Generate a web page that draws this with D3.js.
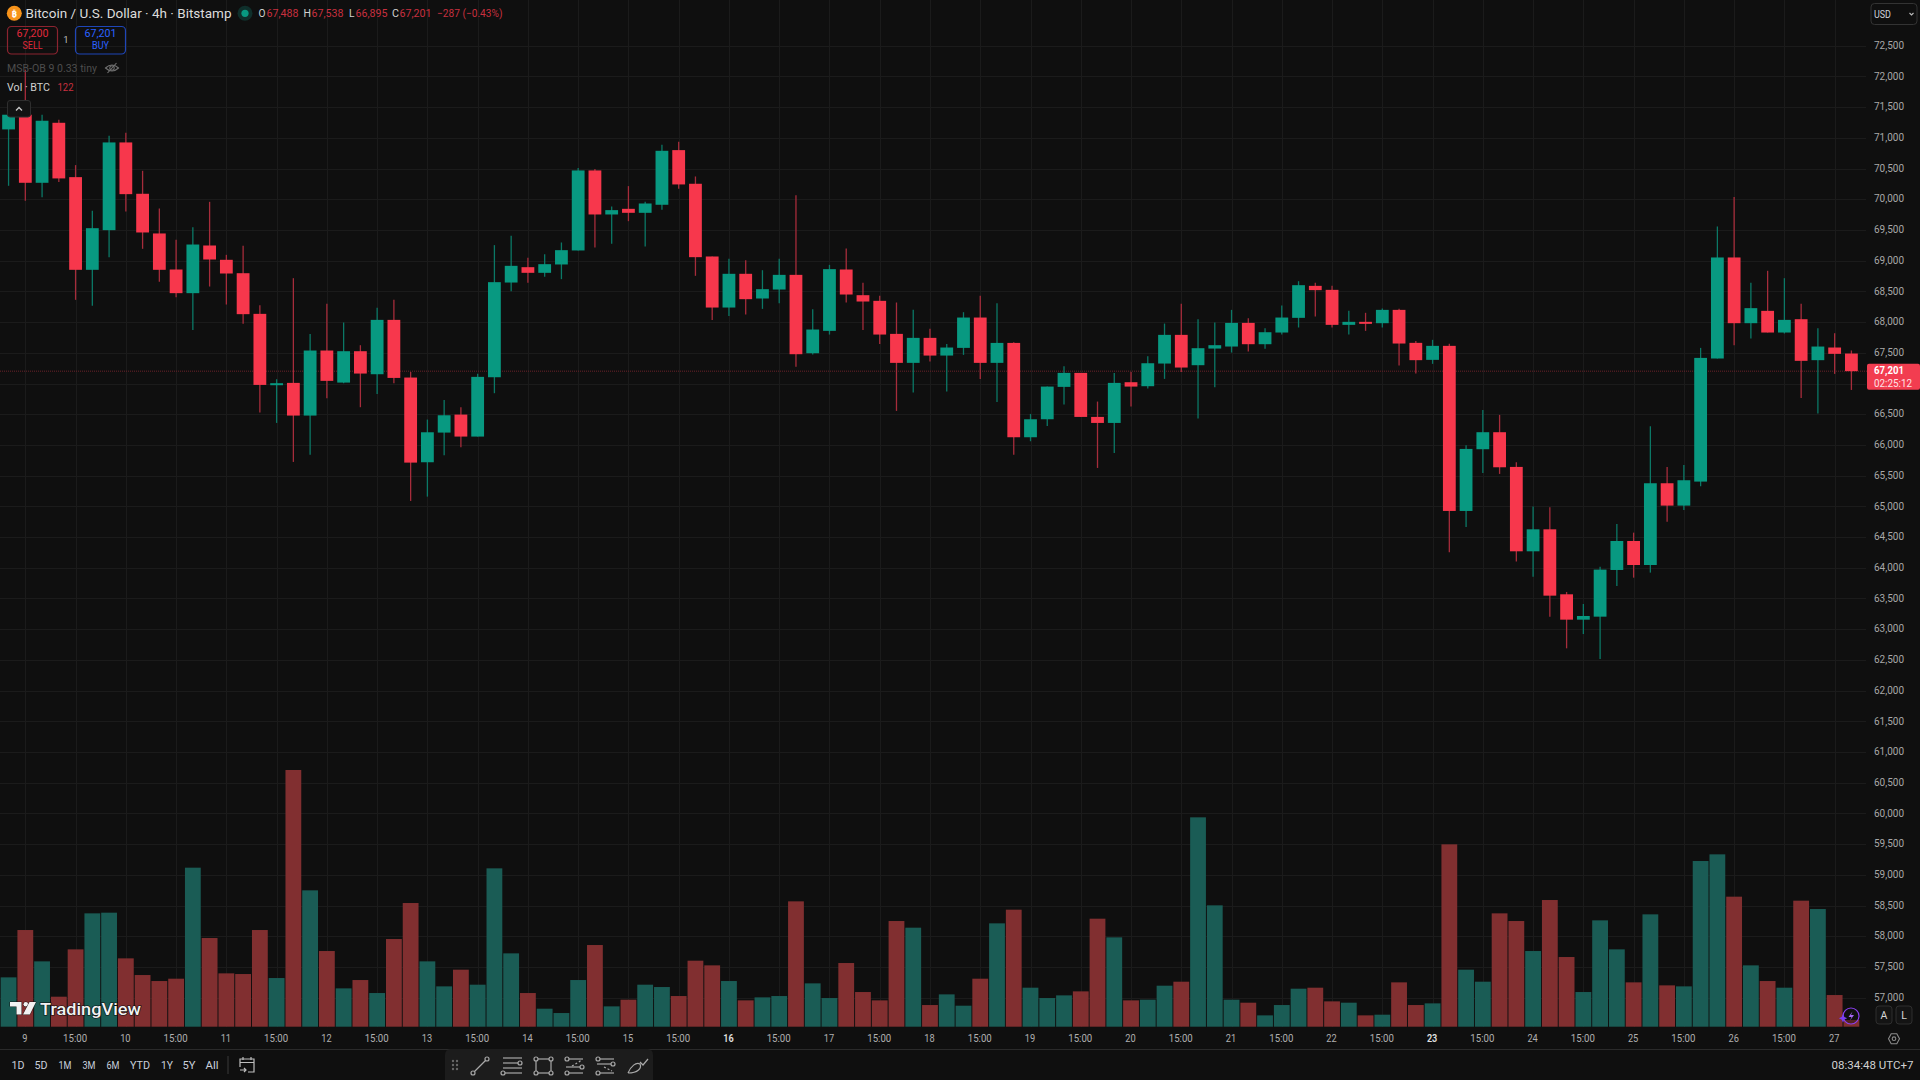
<!DOCTYPE html>
<html>
<head>
<meta charset="utf-8">
<title>BTC/USD 4h</title>
<script src="https://cdn.jsdelivr.net/npm/d3@7"></script>
<style>
  html, body { margin: 0; padding: 0; background: #0f0f0f; overflow: hidden; }
  svg { display: block; }
  text { font-family: Roboto, "Noto Sans", sans-serif; }
</style>
</head>
<body>
<svg id="chart" width="1920" height="1080"></svg>
<script>
// 4h candles, oldest first
const openPrices = [71137,71376,70268,71245,70360,68851,69497,70925,70089,69443,68856,68471,69247,69014,68796,68134,66985,67010,66478,67537,67015,67526,67151,68036,67097,65718,66201,66494,66136,67102,68644,68894,68802,68938,69166,70469,69752,69844,69779,69910,70800,70252,69068,68237,68786,68384,68530,68769,67493,67857,68856,68438,68346,67808,67336,67743,67455,67580,68074,67336,67661,66125,66418,66945,67173,66456,66358,67021,66956,67325,67792,67298,67569,67602,67987,67640,67830,68069,68590,68525,67955,68004,67982,68199,67662,67385,67613,64925,65930,66207,65642,64268,64626,63568,63155,63204,63964,64436,64045,65376,65012,65403,67407,69052,67982,68183,67830,68047,67380,67586,67488];
const highPrices = [71457,72109,71376,71294,70556,69812,71034,71082,70463,69850,69339,69546,69958,69095,69242,68275,67070,68715,67808,68297,67993,67624,68232,68362,67189,66413,66733,66614,67157,69253,69405,69046,69106,69296,70507,70491,69882,70214,69958,70887,70936,70371,69068,69030,69008,68845,69030,70067,68210,68932,69198,68639,68427,68319,68199,67890,67645,68161,68427,68308,67672,66505,66950,67281,67173,66706,67173,67189,67444,67976,68297,68047,67993,68199,68063,67900,68270,68666,68639,68590,68183,68151,68221,68216,67694,67711,67646,65995,66570,66489,65718,64996,64985,63606,63410,64018,64713,64572,66304,65642,65674,67580,69557,70035,68639,68835,68715,68297,67901,67819,67538];
const lowPrices = [70219,69975,70034,70279,68362,68264,69057,69801,69193,68655,68405,67873,68579,68286,67971,66527,66358,65723,65842,66760,67004,66614,66831,67004,65088,65158,65832,65962,66136,66842,68503,68639,68737,68699,69166,69214,69274,69643,69231,69828,70170,68753,68036,68101,68123,68215,68308,67271,67472,67797,68319,67873,67645,66554,66852,67357,66869,67466,67075,66700,65842,66060,66310,66657,66456,65625,65870,66624,66918,67075,67189,66429,66939,67504,67520,67564,67798,67912,68091,67912,67798,67857,67912,67293,67162,67320,64252,64664,65544,65528,64100,63855,63204,62688,62921,62514,63703,63839,63921,64751,64941,65327,67407,67624,67732,67830,67814,66766,66511,67157,66895];
const closePrices = [71376,70268,71278,70339,68851,69529,70925,70083,69459,68851,68471,69263,69019,68791,68129,66977,67005,66478,67537,67043,67526,67162,68036,67091,65712,66206,66483,66136,67108,68650,68916,68802,68943,69171,70469,69752,69823,69779,69931,70789,70241,69057,68237,68786,68373,68536,68769,67477,67879,68862,68449,68335,67797,67336,67743,67455,67586,68074,67336,67661,66125,66418,66950,67173,66456,66358,67010,66950,67330,67792,67260,67575,67624,67987,67640,67835,68074,68601,68520,67955,68004,67982,68199,67651,67380,67613,64925,65935,66207,65636,64268,64626,63546,63155,63215,63970,64436,64045,65376,65012,65425,67417,69052,67982,68227,67830,68036,67369,67602,67483,67201];
const volumes = [888,1740,1176,540,1392,2040,2052,1230,930,822,864,2862,1596,960,948,1740,876,4620,2454,1362,690,840,606,1578,2226,1176,726,1026,756,2850,1320,606,324,246,840,1470,366,486,756,714,552,1188,1104,822,474,528,552,2256,780,516,1146,624,474,1902,1782,390,582,378,864,1860,2106,702,516,564,636,1944,1608,474,486,738,810,3768,2184,486,432,204,390,684,702,456,432,204,216,798,390,420,3282,1026,810,2040,1902,1362,2280,1254,624,1914,1392,798,2022,744,726,2982,3102,2340,1104,822,702,2268,2118,570,122];

const priceTicks = d3.range(57000, 72501, 500);
const timeLabels = ["9","15:00","10","15:00","11","15:00","12","15:00","13","15:00","14","15:00","15","15:00","16","15:00","17","15:00","18","15:00","19","15:00","20","15:00","21","15:00","22","15:00","23","15:00","24","15:00","25","15:00","26","15:00","27"];
const rangeButtons = ["1D","5D","1M","3M","6M","YTD","1Y","5Y","All"];
const lastPrice = 67201;

const candles = openPrices.map((o, i) => ({
  i, o, h: highPrices[i], l: lowPrices[i], c: closePrices[i], v: volumes[i], up: closePrices[i] >= o
}));
const timeTicks = timeLabels.map((_, k) => 1 + k * 3);

const BG = "#0f0f0f", UP = "#089981", DOWN = "#f7374c";
const UP_WICK = "#0b7866", DOWN_WICK = "#a62c3b";
const UP_VOL = "#1a5c55", DOWN_VOL = "#812f30";
const plotRight = 1866, plotBottom = 1027;

const x = d3.scaleLinear().domain([0, 110]).range([8.57, 1851.4]);
const y = d3.scaleLinear().domain([72500, 57000]).range([45.7, 997.7]);
const vy = d3.scaleLinear().domain([0, 4620]).range([1026.7, 770]);

const svg = d3.select("#chart");
svg.append("rect").attr("width", 1920).attr("height", 1080).attr("fill", BG);

// Price axis with its gridlines
const yAxis = svg.append("g").attr("transform", `translate(${plotRight},0)`)
  .call(d3.axisLeft(y).tickValues(priceTicks).tickSize(plotRight).tickFormat(d3.format(",")));
yAxis.select(".domain").remove();
yAxis.selectAll("line").attr("stroke", "#1b1b1b").attr("stroke-width", 1).attr("shape-rendering", "crispEdges");
yAxis.selectAll("text")
  .attr("x", 8).attr("y", -1).attr("text-anchor", "start").attr("fill", "#a8a8a8").attr("font-size", 11.5)
  .attr("font-family", "Roboto").attr("textLength", 30).attr("lengthAdjust", "spacingAndGlyphs");
// The last-price tag takes the place of the tick label it covers
yAxis.selectAll("text").filter(d => Math.abs(y(d) - y(lastPrice)) < 16 && d < lastPrice).remove();

// Time axis with its gridlines
const xAxis = svg.append("g").attr("transform", `translate(0,${plotBottom})`)
  .call(d3.axisTop(x).tickValues(timeTicks).tickSize(plotBottom).tickFormat((_, k) => timeLabels[k]));
xAxis.select(".domain").remove();
xAxis.selectAll("line").attr("stroke", "#1b1b1b").attr("stroke-width", 1).attr("shape-rendering", "crispEdges");
xAxis.selectAll("text")
  .attr("x", -1).attr("y", 11).attr("dy", "0.35em").attr("fill", (_, k) => (timeLabels[k] === "16" || timeLabels[k] === "23") ? "#e0e0e0" : "#b0b0b0")
  .attr("font-size", 11.5).attr("font-family", "Roboto")
  .attr("font-weight", (_, k) => (timeLabels[k] === "16" || timeLabels[k] === "23") ? 600 : 400)
  .each(function (_, k) {
    const t = timeLabels[k];
    d3.select(this).attr("textLength", t.length > 2 ? 24 : t.length * 5.2).attr("lengthAdjust", "spacingAndGlyphs");
  });

// Volume pane
svg.append("g").selectAll("rect").data(candles).join("rect")
  .attr("x", d => x(d.i) - 7.9).attr("width", 15.8)
  .attr("y", d => vy(d.v)).attr("height", d => vy(0) - vy(d.v))
  .attr("fill", d => d.up ? UP_VOL : DOWN_VOL);

// Last-price line
svg.append("line").attr("x1", 0).attr("x2", plotRight + 1)
  .attr("y1", y(lastPrice)).attr("y2", y(lastPrice))
  .attr("stroke", "#6b2229").attr("stroke-width", 1).attr("stroke-dasharray", "1 1");

// Candlesticks
const candleG = svg.append("g");
candleG.selectAll("line").data(candles).join("line")
  .attr("x1", d => x(d.i)).attr("x2", d => x(d.i))
  .attr("y1", d => y(d.h)).attr("y2", d => y(d.l))
  .attr("stroke", d => d.up ? UP_WICK : DOWN_WICK).attr("stroke-width", 1.3);
candleG.selectAll("rect").data(candles).join("rect")
  .attr("x", d => x(d.i) - 6.4).attr("width", 12.8)
  .attr("y", d => y(Math.max(d.o, d.c)))
  .attr("height", d => Math.max(2, Math.abs(y(d.o) - y(d.c))))
  .attr("fill", d => d.up ? UP : DOWN);

// Text helper: anchored label, optionally fitted to a measured width
function label(px, py, str, opts = {}) {
  const t = svg.append("text").attr("x", px).attr("y", py).attr("dy", "0.35em").text(str)
    .attr("fill", opts.fill || "#d1d1d1").attr("font-size", opts.size || 11)
    .attr("font-weight", opts.weight || 400).attr("text-anchor", opts.anchor || "start");
  if (opts.width) t.attr("textLength", opts.width).attr("lengthAdjust", "spacingAndGlyphs");
  return t;
}

// Header legend
svg.append("circle").attr("cx", 14.3).attr("cy", 13.3).attr("r", 7.5).attr("fill", "#f7931a");
label(14.3, 13.5, "₿", { size: 9.5, fill: "#fff", anchor: "middle", weight: 700 });
label(25.5, 13.5, "Bitcoin / U.S. Dollar · 4h · Bitstamp", { size: 13, fill: "#dcdcdc", width: 206 });
svg.append("circle").attr("cx", 245).attr("cy", 13.3).attr("r", 7.5).attr("fill", "#0f2f2b");
svg.append("circle").attr("cx", 245).attr("cy", 13.3).attr("r", 3.6).attr("fill", UP);

const ohlcRed = "#c8303f";
const last = candles[candles.length - 1];
const ohlcParts = [
  [258.5, "O", 7, "#d1d1d1"], [266.5, d3.format(",")(last.o), 32, ohlcRed],
  [303.5, "H", 7.5, "#d1d1d1"], [311.5, d3.format(",")(last.h), 32, ohlcRed],
  [349, "L", 5.5, "#d1d1d1"], [355.5, d3.format(",")(last.l), 32, ohlcRed],
  [392, "C", 7, "#d1d1d1"], [399.5, d3.format(",")(last.c), 32, ohlcRed],
  [437, "−287 (−0.43%)", 65.5, ohlcRed]
];
ohlcParts.forEach(([px, s, w, f]) => label(px, 13.5, s, { size: 11, fill: f, width: w }));

// Sell / buy buttons
svg.append("rect").attr("x", 7.5).attr("y", 26.5).attr("width", 50).attr("height", 27.5).attr("rx", 4)
  .attr("fill", "none").attr("stroke", "#8c2430").attr("stroke-width", 1.2);
svg.append("rect").attr("x", 75.5).attr("y", 26.5).attr("width", 50).attr("height", 27.5).attr("rx", 4)
  .attr("fill", "none").attr("stroke", "#1f46b8").attr("stroke-width", 1.2);
label(32.5, 33.5, "67,200", { anchor: "middle", fill: "#e0293c", size: 11, width: 32 });
label(32.5, 45.8, "SELL", { anchor: "middle", fill: "#e0293c", size: 10.5, width: 20 });
label(66, 40, "1", { anchor: "middle", fill: "#bdbdbd", size: 9.5 });
label(100.5, 33.5, "67,201", { anchor: "middle", fill: "#2a62ff", size: 11, width: 32 });
label(100.5, 45.8, "BUY", { anchor: "middle", fill: "#2a62ff", size: 10.5, width: 17 });

// Indicator rows
label(7, 68, "MSB-OB 9 0.33 tiny", { fill: "#4d4d4d", size: 11, width: 90 });
const eye = svg.append("g").attr("transform", "translate(112,68)").attr("fill", "none").attr("stroke", "#707070").attr("stroke-width", 1.1);
eye.append("path").attr("d", "M-6.5 0 Q0 -6 6.5 0 Q0 6 -6.5 0Z");
eye.append("circle").attr("r", 2.2);
eye.append("line").attr("x1", -4.5).attr("y1", 5).attr("x2", 4.5).attr("y2", -5);
label(7, 87, "Vol · BTC", { fill: "#d1d1d1", size: 11, width: 43 });
label(57.5, 87, "122", { fill: "#c8303f", size: 11, width: 16 });

// Collapse-legend button
svg.append("rect").attr("x", 7.5).attr("y", 100.5).attr("width", 23).attr("height", 16.5).attr("rx", 2.5)
  .attr("fill", "#131313").attr("stroke", "#2e2e2e");
svg.append("path").attr("d", "M16 110.5 L19 107.5 L22 110.5").attr("fill", "none").attr("stroke", "#c8c8c8").attr("stroke-width", 1.3);

// Currency selector
svg.append("rect").attr("x", 1871).attr("y", 3.5).attr("width", 46).attr("height", 21).attr("rx", 3.5)
  .attr("fill", BG).attr("stroke", "#333");
label(1874, 14, "USD", { size: 10.5, fill: "#cfd3dc", width: 17 });
svg.append("path").attr("d", "M1909.5 13 L1911.5 15 L1913.5 13").attr("fill", "none").attr("stroke", "#bbb").attr("stroke-width", 1.1);

// Last-price tag
svg.append("rect").attr("x", 1867).attr("y", y(lastPrice) - 7.5).attr("width", 53).attr("height", 26).attr("rx", 2)
  .attr("fill", "#f23d50");
label(1874, y(lastPrice) - 0.5, d3.format(",")(lastPrice), { size: 10.5, fill: "#fff", weight: 700, width: 30 });
label(1874, y(lastPrice) + 12, "02:25:12", { size: 10, fill: "#ffe3e6", width: 38 });

// Pane separator and footer rule
svg.append("line").attr("x1", 0).attr("x2", 1920).attr("y1", 1049.5).attr("y2", 1049.5).attr("stroke", "#2a2a2a");

// Footer range buttons
const rangeX = [18, 41, 65, 89, 113, 140, 167, 189, 212];
const rangeW = [13, 13, 13, 13, 13, 20, 12, 13, 13];
rangeButtons.forEach((s, k) => label(rangeX[k], 1065, s, { anchor: "middle", size: 11.5, fill: "#c9d0dc", width: rangeW[k] }));
svg.append("line").attr("x1", 228).attr("x2", 228).attr("y1", 1056).attr("y2", 1074).attr("stroke", "#3a3a3a");
const cal = svg.append("g").attr("transform", "translate(247,1065)").attr("fill", "none").attr("stroke", "#bdbdbd").attr("stroke-width", 1.2);
cal.append("path").attr("d", "M-7 2 V-6 H7 V7 H1 M-7 -2.5 H7 M-4 -8 V-5 M4 -8 V-5 M-7 5 H-1 M-3 3 L-1 5 L-3 7");

label(1913.5, 1065, "08:34:48 UTC+7", { anchor: "end", size: 11.5, fill: "#d1d1d1", width: 82 });

// Drawing toolbar
svg.append("path").attr("d", "M445 1080 V1055 Q445 1049 451 1049 H647 Q653 1049 653 1055 V1080Z").attr("fill", "#1c1c1c");
const ink = "#a8a8a8";
const tools = svg.append("g").attr("fill", "none").attr("stroke", ink).attr("stroke-width", 1.2);
[[453,1061],[457,1061],[453,1065],[457,1065],[453,1069],[457,1069]].forEach(([a, b]) =>
  tools.append("circle").attr("cx", a).attr("cy", b).attr("r", 0.6).attr("stroke", "#666"));
const node = (g, a, b) => g.append("circle").attr("cx", a).attr("cy", b).attr("r", 2).attr("fill", "#1c1c1c");
tools.append("line").attr("x1", 473).attr("y1", 1073).attr("x2", 487).attr("y2", 1059);
node(tools, 473, 1073); node(tools, 487, 1059);
[1058, 1063, 1068, 1073].forEach(v => tools.append("line").attr("x1", 503).attr("x2", 522).attr("y1", v).attr("y2", v));
node(tools, 520, 1063); node(tools, 503, 1073);
tools.append("rect").attr("x", 536).attr("y", 1059).attr("width", 15).attr("height", 14);
[[536,1059],[551,1059],[536,1073],[551,1073]].forEach(([a, b]) => node(tools, a, b));
[[1059,"l"],[1067,"r"],[1073,"l"]].forEach(([v, s]) => {
  tools.append("line").attr("x1", 566).attr("x2", 583).attr("y1", v).attr("y2", v);
  node(tools, s === "l" ? 567 : 582, v);
});
tools.append("line").attr("x1", 572).attr("y1", 1066).attr("x2", 582).attr("y2", 1060).attr("stroke-dasharray", "2 2");
[[1059,"l"],[1064,"r"],[1073,"l"]].forEach(([v, s]) => {
  tools.append("line").attr("x1", 597).attr("x2", 614).attr("y1", v).attr("y2", v);
  node(tools, s === "l" ? 598 : 613, v);
});
tools.append("line").attr("x1", 604).attr("y1", 1067).attr("x2", 612).attr("y2", 1071).attr("stroke-dasharray", "2 2");
tools.append("path").attr("d", "M628 1073 C631 1066 636 1062 640 1064 C642 1068 638 1073 628 1073 M640 1062 L643 1065 L648 1059");

// Scale controls near the corner
[[1884, "A"], [1904, "L"]].forEach(([cx, s]) => {
  svg.append("rect").attr("x", cx - 8).attr("y", 1006).attr("width", 16).attr("height", 18).attr("rx", 3)
    .attr("fill", "#141414").attr("stroke", "#2e2e2e");
  label(cx, 1015, s, { anchor: "middle", size: 10.5, fill: "#d6d6d6" });
});
const gear = svg.append("g").attr("transform", "translate(1894,1038.7)").attr("fill", "none").attr("stroke", "#8a8a8a").attr("stroke-width", 1.1);
gear.append("path").attr("d", "M-5.5 0 L-2.8 -5 H2.8 L5.5 0 L2.8 5 H-2.8Z");
gear.append("circle").attr("r", 1.8);

// Assistant badge
const badge = svg.append("g").attr("transform", "translate(1851,1016)");
badge.append("circle").attr("r", 8).attr("fill", BG).attr("fill-opacity", 0.4).attr("stroke", "#8a3ff0").attr("stroke-width", 1.2);
badge.append("path").attr("d", "M1.5 -4.5 L-2.5 1 H0.5 L-1 4.5 L3 -1 H0Z").attr("fill", "#a667f5");
badge.append("path").attr("d", "M-8 -2 L-6.6 1 L-3.8 2.2 L-6.6 3.4 L-8 6.4 L-9.4 3.4 L-12.2 2.2 L-9.4 1Z").attr("fill", "#7b3ff2");

// Watermark
const mark = svg.append("g").attr("transform", "translate(10,1002)").attr("fill", "#f2f2f2").attr("stroke", "#0b0b0b").attr("stroke-width", 0.8).attr("paint-order", "stroke");
mark.append("path").attr("d", "M0 0 H11.5 V12.5 H6.5 V4.5 H0Z");
mark.append("circle").attr("cx", 15.8).attr("cy", 2.3).attr("r", 2.3);
mark.append("path").attr("d", "M19.5 0 H26 L19.8 12.5 H13Z");
label(40, 1009.5, "TradingView", { size: 16.5, fill: "#f2f2f2", weight: 500, width: 101 })
  .attr("stroke", "#0b0b0b").attr("stroke-width", 1.2).attr("paint-order", "stroke");
</script>
</body>
</html>
